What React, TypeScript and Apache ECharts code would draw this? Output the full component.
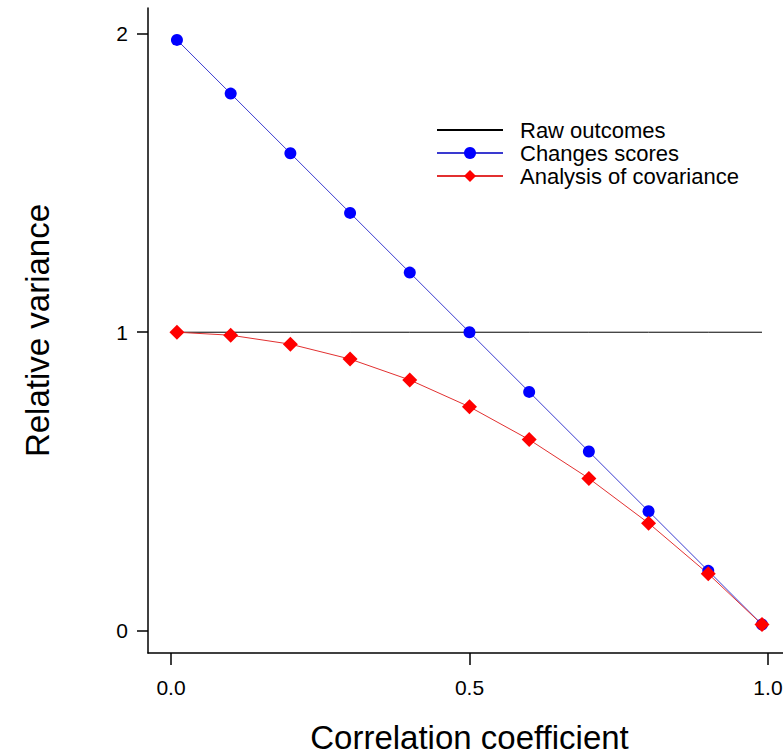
import React, { useEffect, useRef } from "react";
import * as echarts from "echarts";

const correlation = [0.01, 0.1, 0.2, 0.3, 0.4, 0.5, 0.6, 0.7, 0.8, 0.9, 0.99];
const rawOutcomes = [1, 1, 1, 1, 1, 1, 1, 1, 1, 1, 1];
const changeScores = [1.98, 1.8, 1.6, 1.4, 1.2, 1.0, 0.8, 0.6, 0.4, 0.2, 0.02];
const ancova = [1.0, 0.99, 0.96, 0.91, 0.84, 0.75, 0.64, 0.51, 0.36, 0.19, 0.02];
const xTicks = [0, 0.5, 1];
const yTicks = [0, 1, 2];
const seriesNames = ["Raw outcomes", "Changes scores", "Analysis of covariance"];

const FONT = "'Liberation Sans', Arial, Helvetica, sans-serif";

export default function App() {
  const ref = useRef<HTMLDivElement>(null);
  useEffect(() => {
    if (!ref.current) return;
    const chart = echarts.init(ref.current, undefined, { renderer: "svg" });
    const pair = (ys: number[]) => correlation.map((x, i) => [x, ys[i]]);
    chart.setOption({
      animation: false,
      backgroundColor: "#ffffff",
      textStyle: { fontFamily: FONT, color: "#000" },
      grid: { left: 148, width: 655, top: 8, height: 645, containLabel: false, outerBoundsMode: "none" },
      legend: {
        orient: "vertical",
        left: 431,
        top: 114,
        itemWidth: 66,
        itemHeight: 15,
        itemGap: 1,
        data: [
          { name: seriesNames[0], itemStyle: { opacity: 0 } },
          { name: seriesNames[1] },
          { name: seriesNames[2] },
        ],
        textStyle: { fontFamily: FONT, fontSize: 22, lineHeight: 15, color: "#000", padding: [0, 0, 0, 12] },
        inactiveColor: "#000",
        selectedMode: false,
      },
      xAxis: {
        type: "value",
        min: -0.0385,
        max: 1.0587,
        name: "Correlation coefficient",
        nameLocation: "middle",
        nameGap: 71,
        nameTextStyle: { fontFamily: FONT, fontSize: 33, lineHeight: 26, color: "#000", padding: [0, 12, 0, 0] },
        axisLine: { show: true, onZero: false, lineStyle: { color: "#000", width: 1.5 } },
        axisTick: { show: true, inside: false, length: 12, customValues: xTicks, lineStyle: { color: "#000", width: 1.5 } },
        axisLabel: {
          customValues: xTicks,
          margin: 24,
          fontFamily: FONT,
          fontSize: 21,
          color: "#000",
          formatter: (v: number) => v.toFixed(1),
        },
        splitLine: { show: false },
      },
      yAxis: {
        type: "value",
        min: -0.0754,
        max: 2.087,
        name: "Relative variance",
        nameLocation: "middle",
        nameGap: 94,
        nameTextStyle: { fontFamily: FONT, fontSize: 33, color: "#000" },
        axisLine: { show: true, onZero: false, lineStyle: { color: "#000", width: 1.5 } },
        axisTick: { show: true, inside: false, length: 11, customValues: yTicks, lineStyle: { color: "#000", width: 1.5 } },
        axisLabel: {
          customValues: yTicks,
          margin: 20,
          fontFamily: FONT,
          fontSize: 21,
          color: "#000",
          formatter: (v: number) => String(Math.round(v)),
        },
        splitLine: { show: false },
      },
      series: [
        {
          name: seriesNames[0],
          type: "line",
          data: pair(rawOutcomes),
          symbol: "none",
          lineStyle: { color: "#000", width: 1 },
          itemStyle: { color: "#000" },
        },
        {
          name: seriesNames[1],
          type: "line",
          data: pair(changeScores),
          symbol: "circle",
          symbolSize: 12,
          lineStyle: { color: "#3a3ad0", width: 1 },
          itemStyle: { color: "#0000ff" },
        },
        {
          name: seriesNames[2],
          type: "line",
          data: pair(ancova),
          symbol: "diamond",
          symbolSize: 15,
          lineStyle: { color: "#e23030", width: 1 },
          itemStyle: { color: "#ff0000" },
        },
      ],
    });
    return () => chart.dispose();
  }, []);
  return (
    <div
      ref={ref}
      style={{ position: "fixed", left: 0, top: 0, width: 783, height: 756, background: "#fff" }}
    />
  );
}
